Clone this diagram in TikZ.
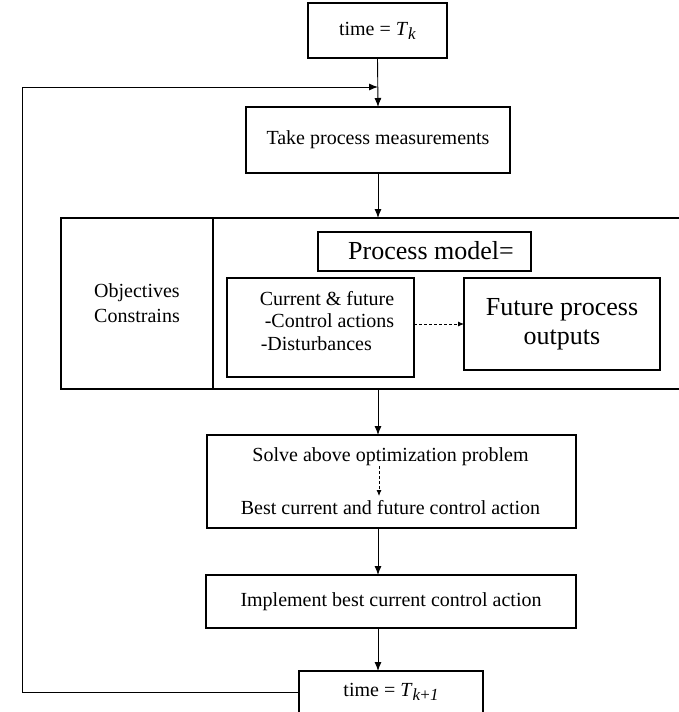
\documentclass[tikz,border=0pt]{standalone}
\usepackage{fontspec}
\setmainfont{Liberation Serif}
\usetikzlibrary{arrows.meta}
\begin{document}
\begin{tikzpicture}[x=1pt,y=-1pt,
  box/.style={draw, line width=1.6pt, inner sep=0pt, outer sep=0pt, align=center,
              font=\fontsize{20}{24}\selectfont},
  txt/.style={inner sep=0pt, outer sep=0pt, align=center, font=\fontsize{20}{24}\selectfont},
  flow/.style={line width=0.9pt, -{Latex[length=9pt,width=7pt]}},
  dflow/.style={line width=0.8pt, dash pattern=on 3pt off 2pt, -{Latex[length=6pt,width=5pt]}}]
\useasboundingbox (0,0) rectangle (679,712);

% top box
\node[box, minimum width=139pt, minimum height=55pt] (top) at (377.5,30.5)
  {time = \textit{T}\raisebox{-4pt}{\fontsize{17}{17}\selectfont\textit{k}}};
% take measurements
\node[box, minimum width=264pt, minimum height=66pt] (take) at (378,140)
  {Take process measurements};
% big box and its left compartment
\node[box, minimum width=629pt, minimum height=171pt] (big) at (375.5,303.5) {};
\node[box, minimum width=152pt, minimum height=171pt,
      font=\fontsize{20}{25}\selectfont] (obj) at (137,303.5) {Objectives\\Constrains};
\node[box, minimum width=213pt, minimum height=39pt] (pm) at (424.5,251.5) {};
\node[txt, font=\fontsize{26}{30}\selectfont] (pmtext) at (431,251) {Process model=};
\node[box, minimum width=187pt, minimum height=99pt] (cur) at (320.5,327.5) {};
\node[txt, align=left, font=\fontsize{20}{22.5}\selectfont] (curtext) at (327,321)
  {Current \& future\\\hspace*{5pt}-Control actions\\\hspace*{1pt}-Disturbances};
\node[box, minimum width=196pt, minimum height=92pt, font=\fontsize{26}{29}\selectfont]
  (fut) at (562,324) {Future process\\outputs};
% solve box
\node[box, minimum width=369pt, minimum height=93pt] (solve) at (391.5,481.5) {};
\node[txt] (s1) at (390.5,457) {Solve above optimization problem};
\node[txt] (s2) at (390.5,508) {Best current and future control action};
% implement
\node[box, minimum width=370pt, minimum height=53pt] (impl) at (391,601.5)
  {Implement best current control action};
% bottom time box
\node[box, minimum width=184pt, minimum height=42pt] (bot) at (391,692)
  {time = \textit{T}\raisebox{-4pt}{\fontsize{17}{17}\selectfont\textit{k}+\textit{1}}};

\coordinate (fb) at (22,87);
\coordinate (d2) at (379,496);

% connectors
\draw[flow] (top.south) -- (take.north);
\draw[flow] (take.south) -- (take.south |- big.north);
\draw[flow] (take.south |- big.south) -- (take.south |- solve.north);
\draw[flow] (take.south |- solve.south) -- (take.south |- impl.north);
\draw[flow] (take.south |- impl.south) -- (take.south |- bot.north);
\draw[flow] (bot.west) -- (bot.west -| fb) -- (fb) -- (take.north |- fb);
\draw[dflow] (cur.east |- fut.west) -- (fut.west);
\draw[dflow] (s1.south -| d2) -- (d2);
\end{tikzpicture}
\end{document}
